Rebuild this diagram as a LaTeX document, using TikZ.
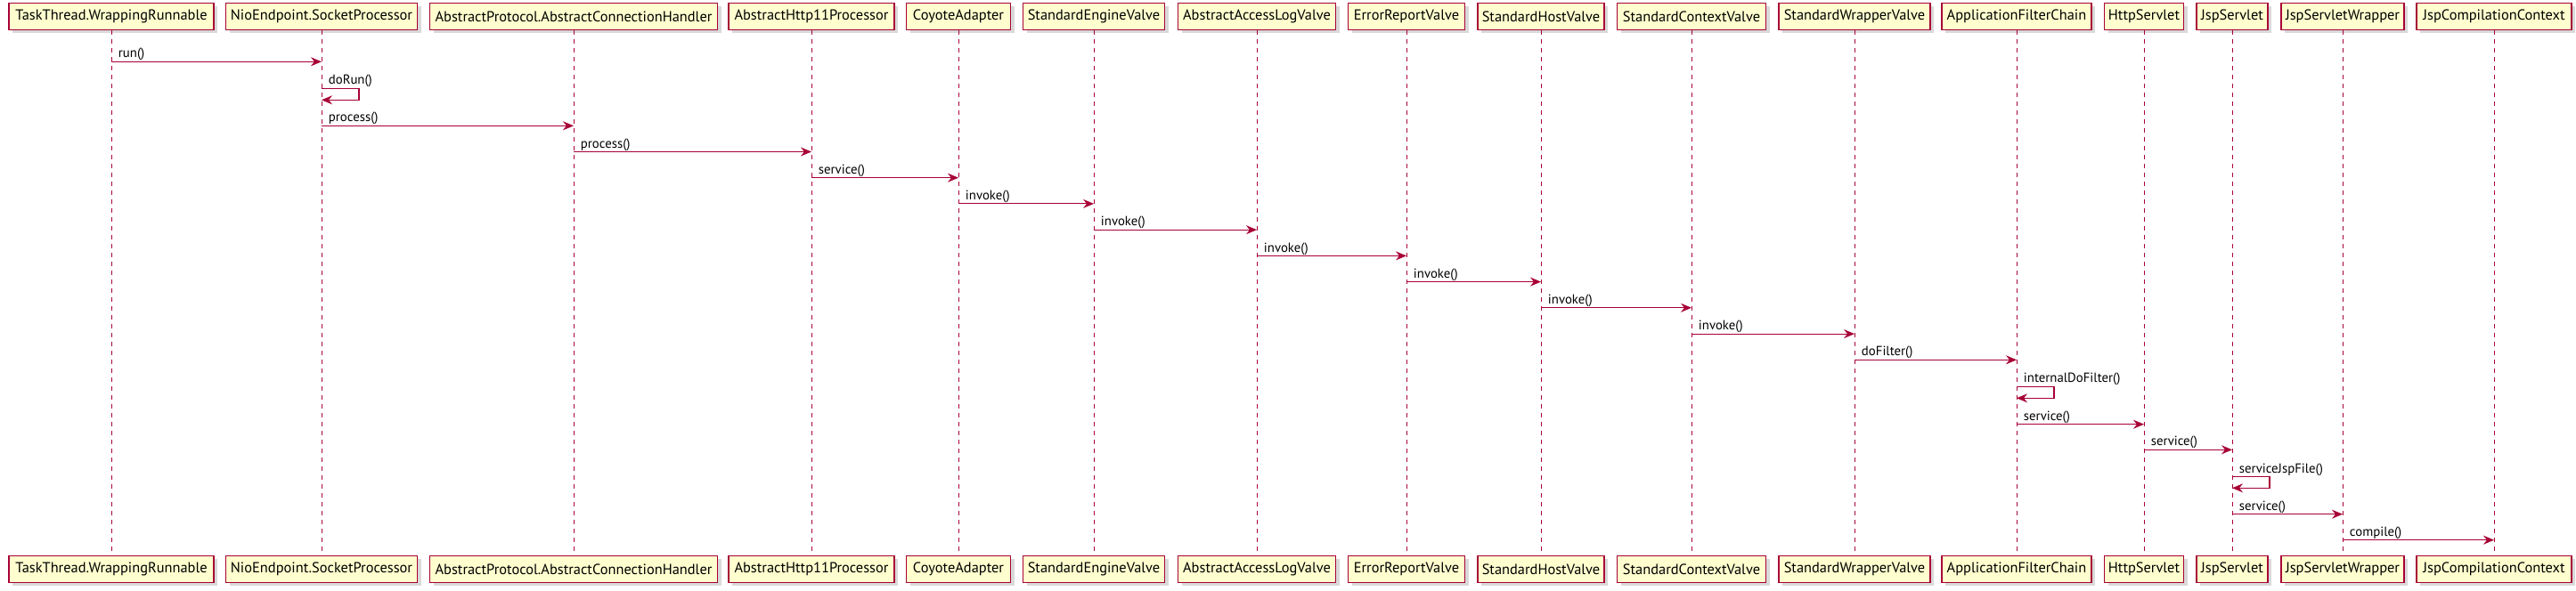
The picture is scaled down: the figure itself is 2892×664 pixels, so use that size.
\documentclass[tikz,border=0pt]{standalone}
\usepackage{fontspec}
\setmainfont{PT Sans}
\usetikzlibrary{arrows.meta,shadows}
\definecolor{umlred}{HTML}{A80036}
\definecolor{umlfill}{HTML}{FEFECE}
\tikzset{
  part/.style ={draw=umlred, fill=umlfill, line width=0.75pt, minimum height=15pt,
                inner sep=0pt, font=\fontsize{8.2}{10}\selectfont,
                drop shadow={shadow xshift=2pt, shadow yshift=-2pt, opacity=0.3}},
  life/.style ={umlred, line width=0.5pt, dash pattern=on 2.5pt off 2.5pt},
  msg/.style  ={umlred, line width=0.55pt,
                -{Stealth[length=6pt, width=5pt, inset=2pt]}},
  lbl/.style  ={anchor=base west, inner sep=0pt, xshift=3.7pt, yshift=2.2pt,
                text=black, font=\fontsize{7.4}{9}\selectfont},
}
\begin{document}
\begin{tikzpicture}[x=0.5pt, y=-0.5pt]
    \useasboundingbox (0,0) rectangle (2892,664);
    % participants, top and bottom
    \node[part, minimum width=115pt] (wr)    at (125,18.3)  {TaskThread.WrappingRunnable};
    \node[part, minimum width=115pt] (wr-b)  at (125,639.3) {TaskThread.WrappingRunnable};
    \node[part, minimum width=107.5pt] (sp)   at (361,18.3)  {NioEndpoint.SocketProcessor};
    \node[part, minimum width=107.5pt] (sp-b) at (361,639.3) {NioEndpoint.SocketProcessor};
    \node[part, minimum width=161.5pt] (ach)  at (644,18.3)  {AbstractProtocol.AbstractConnectionHandler};
    \node[part, minimum width=161.5pt] (ach-b) at (644,639.3) {AbstractProtocol.AbstractConnectionHandler};
    \node[part, minimum width=93pt]  (hp)    at (911,18.3)  {AbstractHttp11Processor};
    \node[part, minimum width=93pt]  (hp-b)  at (911,639.3) {AbstractHttp11Processor};
    \node[part, minimum width=58.5pt] (ca)   at (1076,18.3)  {CoyoteAdapter};
    \node[part, minimum width=58.5pt] (ca-b) at (1076,639.3) {CoyoteAdapter};
    \node[part, minimum width=79.5pt] (ev)   at (1228,18.3)  {StandardEngineValve};
    \node[part, minimum width=79.5pt] (ev-b) at (1228,639.3) {StandardEngineValve};
    \node[part, minimum width=88.5pt] (alv)  at (1411,18.3)  {AbstractAccessLogValve};
    \node[part, minimum width=88.5pt] (alv-b) at (1411,639.3) {AbstractAccessLogValve};
    \node[part, minimum width=65.5pt] (erv)  at (1579,18.3)  {ErrorReportValve};
    \node[part, minimum width=65.5pt] (erv-b) at (1579,639.3) {ErrorReportValve};
    \node[part, minimum width=71pt]  (hv)    at (1730,18.3)  {StandardHostValve};
    \node[part, minimum width=71pt]  (hv-b)  at (1730,639.3) {StandardHostValve};
    \node[part, minimum width=83.5pt] (cv)   at (1899,18.3)  {StandardContextValve};
    \node[part, minimum width=83.5pt] (cv-b) at (1899,639.3) {StandardContextValve};
    \node[part, minimum width=85pt]  (wv)    at (2082,18.3)  {StandardWrapperValve};
    \node[part, minimum width=85pt]  (wv-b)  at (2082,639.3) {StandardWrapperValve};
    \node[part, minimum width=84pt]  (afc)   at (2264,18.3)  {ApplicationFilterChain};
    \node[part, minimum width=84pt]  (afc-b) at (2264,639.3) {ApplicationFilterChain};
    \node[part, minimum width=44.5pt] (hs)   at (2407,18.3)  {HttpServlet};
    \node[part, minimum width=44.5pt] (hs-b) at (2407,639.3) {HttpServlet};
    \node[part, minimum width=40pt]  (js)    at (2506,18.3)  {JspServlet};
    \node[part, minimum width=40pt]  (js-b)  at (2506,639.3) {JspServlet};
    \node[part, minimum width=69pt]  (jsw)   at (2630,18.3)  {JspServletWrapper};
    \node[part, minimum width=69pt]  (jsw-b) at (2630,639.3) {JspServletWrapper};
    \node[part, minimum width=87pt]  (jcc)   at (2800,18.3)  {JspCompilationContext};
    \node[part, minimum width=87pt]  (jcc-b) at (2800,639.3) {JspCompilationContext};
    % lifelines
    \draw[life] (wr) -- (wr-b);   \draw[life] (sp) -- (sp-b);
    \draw[life] (ach) -- (ach-b); \draw[life] (hp) -- (hp-b);
    \draw[life] (ca) -- (ca-b);   \draw[life] (ev) -- (ev-b);
    \draw[life] (alv) -- (alv-b); \draw[life] (erv) -- (erv-b);
    \draw[life] (hv) -- (hv-b);   \draw[life] (cv) -- (cv-b);
    \draw[life] (wv) -- (wv-b);   \draw[life] (afc) -- (afc-b);
    \draw[life] (hs) -- (hs-b);   \draw[life] (js) -- (js-b);
    \draw[life] (jsw) -- (jsw-b); \draw[life] (jcc) -- (jcc-b);
    % messages
    \draw[msg] (wr |- 0,69.3) node[lbl] {run()} -- (sp |- 0,69.3);
    \draw[msg] (sp |- 0,99.3) node[lbl] {doRun()} -- ++(42,0) |- (sp |- 0,112.3);
    \draw[msg] (sp |- 0,141.3) node[lbl] {process()} -- (ach |- 0,141.3);
    \draw[msg] (ach |- 0,170.5) node[lbl] {process()} -- (hp |- 0,170.5);
    \draw[msg] (hp |- 0,199.7) node[lbl] {service()} -- (ca |- 0,199.7);
    \draw[msg] (ca |- 0,228.9) node[lbl] {invoke()} -- (ev |- 0,228.9);
    \draw[msg] (ev |- 0,258.2) node[lbl] {invoke()} -- (alv |- 0,258.2);
    \draw[msg] (alv |- 0,287.4) node[lbl] {invoke()} -- (erv |- 0,287.4);
    \draw[msg] (erv |- 0,316.6) node[lbl] {invoke()} -- (hv |- 0,316.6);
    \draw[msg] (hv |- 0,345.8) node[lbl] {invoke()} -- (cv |- 0,345.8);
    \draw[msg] (cv |- 0,375.1) node[lbl] {invoke()} -- (wv |- 0,375.1);
    \draw[msg] (wv |- 0,404.3) node[lbl] {doFilter()} -- (afc |- 0,404.3);
    \draw[msg] (afc |- 0,434.3) node[lbl] {internalDoFilter()} -- ++(42,0) |- (afc |- 0,447.3);
    \draw[msg] (afc |- 0,476.7) node[lbl] {service()} -- (hs |- 0,476.7);
    \draw[msg] (hs |- 0,505.3) node[lbl] {service()} -- (js |- 0,505.3);
    \draw[msg] (js |- 0,535.7) node[lbl] {serviceJspFile()} -- ++(42,0) |- (js |- 0,548.3);
    \draw[msg] (js |- 0,577.7) node[lbl] {service()} -- (jsw |- 0,577.7);
    \draw[msg] (jsw |- 0,606.7) node[lbl] {compile()} -- (jcc |- 0,606.7);
\end{tikzpicture}
\end{document}
